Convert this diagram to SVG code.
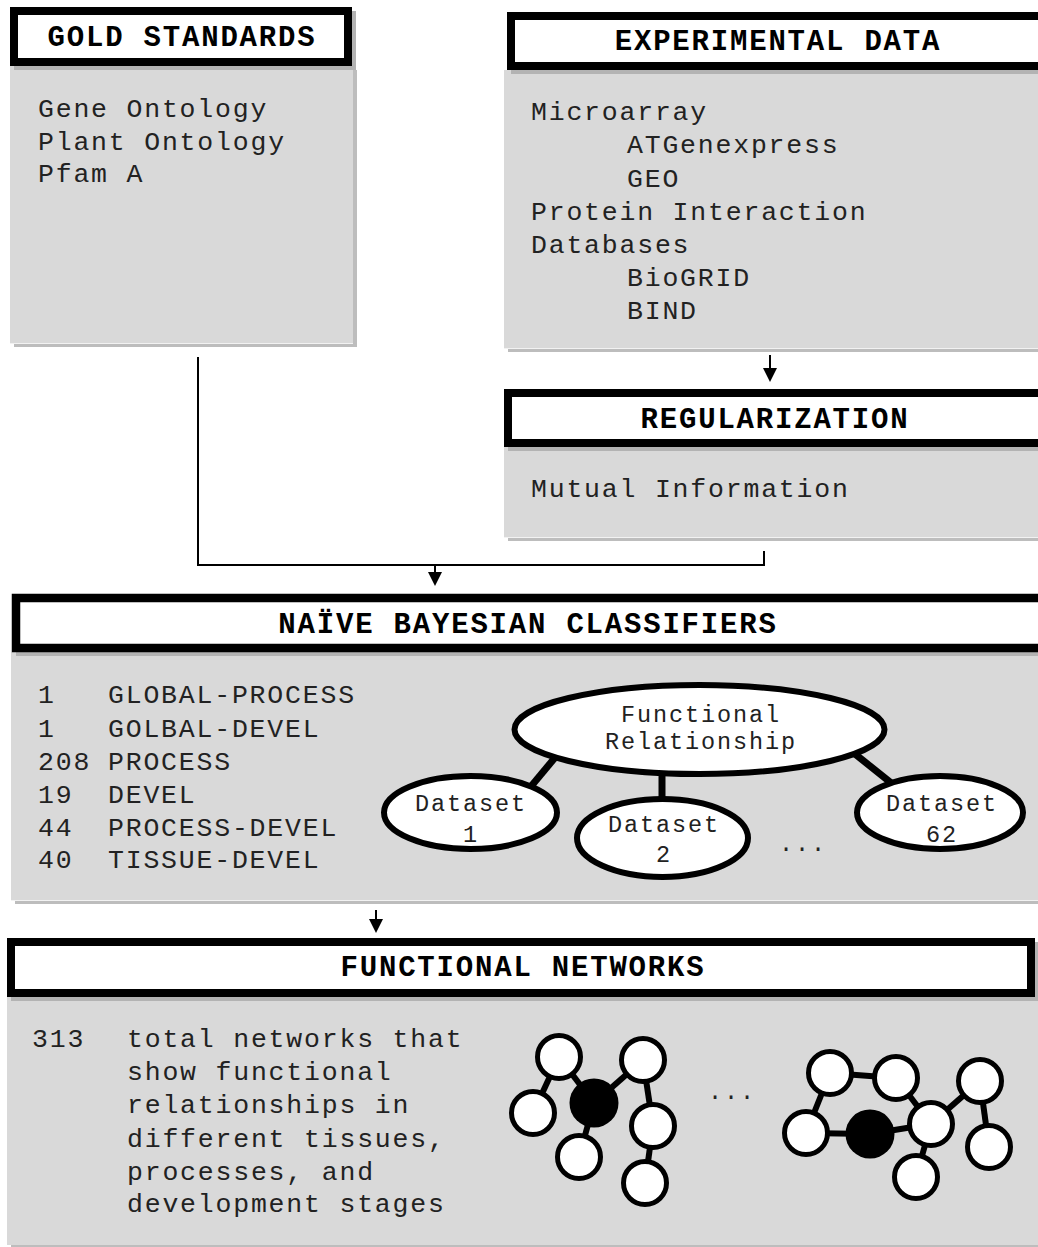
<svg xmlns="http://www.w3.org/2000/svg" width="1038" height="1247" viewBox="0 0 1038 1247">
  <defs>
    <marker id="arrowhead" viewBox="0 0 14 14" markerWidth="14" markerHeight="14" refX="2" refY="7" orient="auto" markerUnits="userSpaceOnUse">
      <path d="M0,0 L14,7 L0,14 z" fill="#000"/>
    </marker>
  </defs>
  <style>
    .shadow { fill: #bdbdbd; }
    .body { fill: #d9d9d9; }
    .hshadow { fill: #b3b3b3; }
    .header { fill: #fff; stroke: #000; stroke-width: 8; }
    .edgeline { stroke: #f2f2f2; stroke-width: 1; }
    .title { font-family: "Liberation Mono", "Courier New", monospace; font-weight: bold; font-size: 29px; letter-spacing: 1.8px; text-anchor: middle; fill: #000; }
    .txt { font-family: "Liberation Mono", "Courier New", monospace; font-size: 26.5px; letter-spacing: 1.8px; fill: #222; }
    .small { font-family: "Liberation Mono", "Courier New", monospace; font-size: 23.5px; letter-spacing: 1.9px; fill: #222; text-anchor: middle; }
    .flow { stroke: #000; stroke-width: 2; fill: none; }
    .oval { fill: #fff; stroke: #000; stroke-width: 6; }
    .link { stroke: #000; stroke-width: 7; }
    .gedge { stroke: #000; stroke-width: 6; }
    .gnode { fill: #fff; stroke: #000; stroke-width: 5; }
    .hub { fill: #000; }
  </style>
  <rect width="1038" height="1247" fill="#fff"/>

  <!-- Gold standards -->
  <g id="gold-standards">
    <rect class="shadow" x="14" y="70" width="343" height="277"/>
    <rect class="body" x="10" y="66" width="343" height="277"/>
    <line class="edgeline" x1="10" y1="343.5" x2="353" y2="343.5"/>
    <rect class="hshadow" x="14" y="11" width="342" height="59"/>
    <rect class="header" x="14" y="11" width="334" height="51"/>
    <text class="title" x="182" y="46">GOLD STANDARDS</text>
    <text class="txt" x="38" y="117">Gene Ontology</text>
    <text class="txt" x="38" y="150">Plant Ontology</text>
    <text class="txt" x="38" y="182">Pfam A</text>
  </g>

  <!-- Experimental data -->
  <g id="experimental-data">
    <rect class="shadow" x="508" y="74" width="540" height="278"/>
    <rect class="body" x="504" y="70" width="540" height="278"/>
    <line class="edgeline" x1="504" y1="348.5" x2="1038" y2="348.5"/>
    <rect class="hshadow" x="511" y="16" width="540" height="58"/>
    <rect class="header" x="511" y="16" width="540" height="50"/>
    <text class="title" x="778" y="50">EXPERIMENTAL DATA</text>
    <text class="txt" x="531" y="120">Microarray</text>
    <text class="txt" x="627" y="153">ATGenexpress</text>
    <text class="txt" x="627" y="187">GEO</text>
    <text class="txt" x="531" y="220">Protein Interaction</text>
    <text class="txt" x="531" y="253">Databases</text>
    <text class="txt" x="627" y="286">BioGRID</text>
    <text class="txt" x="627" y="319">BIND</text>
  </g>

  <!-- Regularization -->
  <g id="regularization">
    <rect class="shadow" x="508" y="451" width="540" height="90"/>
    <rect class="body" x="504" y="447" width="540" height="90"/>
    <line class="edgeline" x1="504" y1="537.5" x2="1038" y2="537.5"/>
    <rect class="hshadow" x="508" y="393" width="540" height="58"/>
    <rect class="header" x="508" y="393" width="540" height="50"/>
    <text class="title" x="775" y="428">REGULARIZATION</text>
    <text class="txt" x="531" y="497">Mutual Information</text>
  </g>

  <!-- Naive Bayesian classifiers -->
  <g id="naive-bayesian-classifiers">
    <rect class="shadow" x="15" y="656" width="1030" height="248"/>
    <rect class="body" x="11" y="652" width="1030" height="248"/>
    <line class="edgeline" x1="11" y1="900.5" x2="1038" y2="900.5"/>
    <rect class="hshadow" x="16" y="598" width="1030" height="58"/>
    <rect class="header" x="16" y="598" width="1030" height="50" style="stroke-width:8.5"/>
    <text class="title" x="528" y="633">NAÏVE BAYESIAN CLASSIFIERS</text>
    <text class="txt" x="38" y="703">1</text><text class="txt" x="108" y="703">GLOBAL-PROCESS</text>
    <text class="txt" x="38" y="737">1</text><text class="txt" x="108" y="737">GOLBAL-DEVEL</text>
    <text class="txt" x="38" y="770">208</text><text class="txt" x="108" y="770">PROCESS</text>
    <text class="txt" x="38" y="803">19</text><text class="txt" x="108" y="803">DEVEL</text>
    <text class="txt" x="38" y="836">44</text><text class="txt" x="108" y="836">PROCESS-DEVEL</text>
    <text class="txt" x="38" y="868">40</text><text class="txt" x="108" y="868">TISSUE-DEVEL</text>
    <!-- classifier structure: class node over dataset nodes -->
    <g id="classifier-links">
      <line class="link" x1="528" y1="790" x2="558" y2="754"/>
      <line class="link" x1="662" y1="770" x2="662" y2="802"/>
      <line class="link" x1="850" y1="750" x2="895" y2="786"/>
    </g>
    <g id="functional-relationship">
      <ellipse class="oval" cx="699.5" cy="729.5" rx="185" ry="44.5"/>
      <text class="small" x="701" y="722">Functional</text>
      <text class="small" x="701" y="749">Relationship</text>
    </g>
    <g id="dataset-1">
      <ellipse class="oval" cx="470.5" cy="812.5" rx="86.5" ry="36.5"/>
      <text class="small" x="471" y="811">Dataset</text>
      <text class="small" x="471" y="842">1</text>
    </g>
    <g id="dataset-2">
      <ellipse class="oval" cx="662.5" cy="838" rx="85.5" ry="39"/>
      <text class="small" x="664" y="832">Dataset</text>
      <text class="small" x="664" y="862">2</text>
    </g>
    <g id="dataset-62">
      <ellipse class="oval" cx="940" cy="812.5" rx="83" ry="36.5"/>
      <text class="small" x="942" y="811">Dataset</text>
      <text class="small" x="942" y="842">62</text>
    </g>
    <text class="small" x="803" y="851">...</text>
  </g>

  <!-- Functional networks -->
  <g id="functional-networks">
    <rect class="shadow" x="11" y="1001" width="1035" height="248"/>
    <rect class="body" x="7" y="997" width="1035" height="248"/>
    <rect class="hshadow" x="11" y="942" width="1028" height="59"/>
    <rect class="header" x="11" y="942" width="1020" height="51"/>
    <text class="title" x="523" y="976">FUNCTIONAL NETWORKS</text>
    <text class="txt" x="32" y="1047">313</text>
    <text class="txt" x="127" y="1047">total networks that</text>
    <text class="txt" x="127" y="1080">show functional</text>
    <text class="txt" x="127" y="1113">relationships in</text>
    <text class="txt" x="127" y="1147">different tissues,</text>
    <text class="txt" x="127" y="1180">processes, and</text>
    <text class="txt" x="127" y="1212">development stages</text>

    <!-- first example network -->
    <g id="network-a">
      <line class="gedge" x1="559" y1="1057" x2="533" y2="1113"/>
      <line class="gedge" x1="559" y1="1057" x2="594" y2="1103"/>
      <line class="gedge" x1="594" y1="1103" x2="643" y2="1060"/>
      <line class="gedge" x1="643" y1="1060" x2="653" y2="1126"/>
      <line class="gedge" x1="653" y1="1126" x2="645" y2="1183"/>
      <line class="gedge" x1="594" y1="1103" x2="579" y2="1157"/>
      <circle class="gnode" cx="559" cy="1057" r="21.5"/>
      <circle class="gnode" cx="533" cy="1113" r="21.5"/>
      <circle class="gnode" cx="643" cy="1060" r="21.5"/>
      <circle class="gnode" cx="653" cy="1126" r="21.5"/>
      <circle class="gnode" cx="579" cy="1157" r="21.5"/>
      <circle class="gnode" cx="645" cy="1183" r="21.5"/>
      <circle class="hub" cx="594" cy="1103" r="24.5"/>
    </g>
    <text class="small" x="732" y="1099">...</text>
    <!-- second example network -->
    <g id="network-b">
      <line class="gedge" x1="830" y1="1073" x2="896" y2="1078"/>
      <line class="gedge" x1="830" y1="1073" x2="806" y2="1133"/>
      <line class="gedge" x1="806" y1="1133" x2="870" y2="1134"/>
      <line class="gedge" x1="870" y1="1134" x2="931" y2="1124"/>
      <line class="gedge" x1="896" y1="1078" x2="931" y2="1124"/>
      <line class="gedge" x1="931" y1="1124" x2="980" y2="1081"/>
      <line class="gedge" x1="931" y1="1124" x2="916" y2="1177"/>
      <line class="gedge" x1="980" y1="1081" x2="989" y2="1147"/>
      <circle class="gnode" cx="830" cy="1073" r="21.5"/>
      <circle class="gnode" cx="896" cy="1078" r="21.5"/>
      <circle class="gnode" cx="980" cy="1081" r="21.5"/>
      <circle class="gnode" cx="806" cy="1133" r="21.5"/>
      <circle class="gnode" cx="931" cy="1124" r="21.5"/>
      <circle class="gnode" cx="916" cy="1177" r="21.5"/>
      <circle class="gnode" cx="989" cy="1147" r="21.5"/>
      <circle class="hub" cx="870" cy="1134" r="24.5"/>
    </g>
  </g>

  <!-- Flow connectors -->
  <g id="connectors">
    <line class="flow" x1="770" y1="355" x2="770" y2="370" marker-end="url(#arrowhead)"/>
    <polyline class="flow" points="198,357 198,565 764,565 764,551"/>
    <line class="flow" x1="435" y1="565" x2="435" y2="574" marker-end="url(#arrowhead)"/>
    <line class="flow" x1="376" y1="910" x2="376" y2="921" marker-end="url(#arrowhead)"/>
  </g>
</svg>
